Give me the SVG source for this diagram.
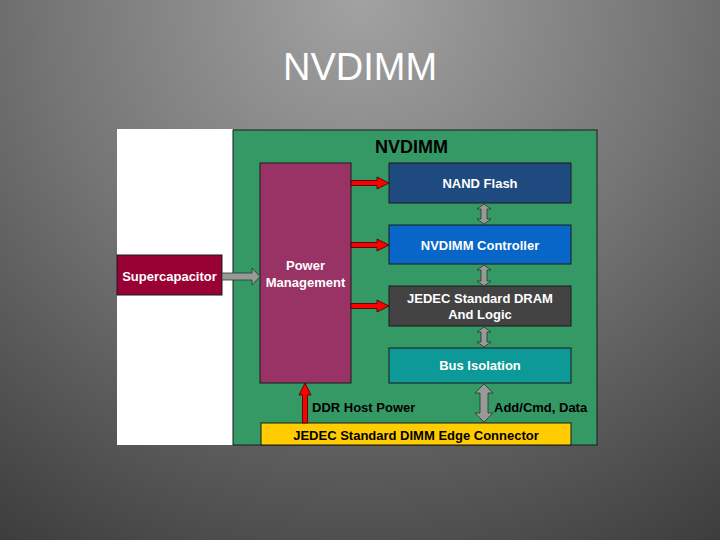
<svg xmlns="http://www.w3.org/2000/svg" width="720" height="540" viewBox="0 0 720 540">
<defs>
<radialGradient id="bg" cx="360" cy="0" r="640" gradientUnits="userSpaceOnUse">
<stop offset="0" stop-color="#a2a2a2"/>
<stop offset="0.5" stop-color="#747474"/>
<stop offset="1" stop-color="#3e3e3e"/>
</radialGradient>
<style>
.box{stroke:#1a1a1a;stroke-width:1}
.wt{font-family:"Liberation Sans",Arial,sans-serif;font-weight:bold;font-size:13px;fill:#ffffff;text-anchor:middle}
.bt{font-family:"Liberation Sans",Arial,sans-serif;font-weight:bold;font-size:13px;fill:#000000}
.red{fill:#ff0000;stroke:#3a0000;stroke-width:0.8}
.gray{fill:#999999;stroke:#1f3a22;stroke-width:0.8}
</style>
</defs>
<rect width="720" height="540" fill="url(#bg)"/>
<text x="360" y="80" font-family="'Liberation Sans',Arial,sans-serif" font-size="38" fill="#ffffff" text-anchor="middle">NVDIMM</text>
<rect x="117" y="129" width="116" height="316" fill="#ffffff"/>
<g id="panel">
<rect x="233" y="130" width="364" height="315" fill="#359966" stroke="#1a1a1a" stroke-width="1"/>
<text x="375" y="153" font-family="'Liberation Sans',Arial,sans-serif" font-weight="bold" font-size="18" fill="#000000">NVDIMM</text>
</g>
<g id="supercap">
<rect class="box" x="117" y="255" width="105" height="40" fill="#990033"/>
<text class="wt" x="169.5" y="281">Supercapacitor</text>
</g>
<g id="power">
<rect class="box" x="260" y="163" width="91" height="220" fill="#993366"/>
<text class="wt" x="305.5" y="270">Power</text>
<text class="wt" x="305.5" y="287">Management</text>
</g>
<g id="nand">
<rect class="box" x="389" y="163" width="182" height="40" fill="#1f4a80"/>
<text class="wt" x="480" y="188">NAND Flash</text>
</g>
<g id="controller">
<rect class="box" x="389" y="225" width="182" height="39" fill="#0866c8"/>
<text class="wt" x="480" y="250">NVDIMM Controller</text>
</g>
<g id="dram">
<rect class="box" x="389" y="286" width="182" height="40" fill="#434343"/>
<text class="wt" x="480" y="303">JEDEC Standard DRAM</text>
<text class="wt" x="480" y="319">And Logic</text>
</g>
<g id="busiso">
<rect class="box" x="389" y="348" width="182" height="35" fill="#0e9999"/>
<text class="wt" x="480" y="370">Bus Isolation</text>
</g>
<g id="edge">
<rect class="box" x="261" y="423" width="310" height="22" fill="#ffcc00"/>
<text class="bt" x="416" y="440" text-anchor="middle">JEDEC Standard DIMM Edge Connector</text>
</g>
<g id="connectors">
<polygon class="gray" points="222,273 252,273 252,268 260,276.5 252,285 252,280 222,280"/>
<polygon class="red" points="351,180.5 377,180.5 377,177 389,183 377,189 377,185.5 351,185.5"/>
<polygon class="red" points="351,242.5 377,242.5 377,239 389,245 377,251 377,247.5 351,247.5"/>
<polygon class="red" points="351,303.5 377,303.5 377,300 389,306 377,312 377,308.5 351,308.5"/>
<polygon class="red" points="302.5,423 302.5,395 299,395 305,383 311,395 307.5,395 307.5,423"/>
<polygon class="gray" points="484,204 491,209 487,209 487,219 491,219 484,224 477,219 481,219 481,209 477,209"/>
<polygon class="gray" points="484,265 491,270 487,270 487,281 491,281 484,286 477,281 481,281 481,270 477,270"/>
<polygon class="gray" points="484,327 491,332 487,332 487,342 491,342 484,347 477,342 481,342 481,332 477,332"/>
<polygon class="gray" points="484,384 493,393 488,393 488,413 493,413 484,422 475,413 480,413 480,393 475,393"/>
<text class="bt" x="312" y="412">DDR Host Power</text>
<text class="bt" x="494" y="412">Add/Cmd, Data</text>
</g>
</svg>
